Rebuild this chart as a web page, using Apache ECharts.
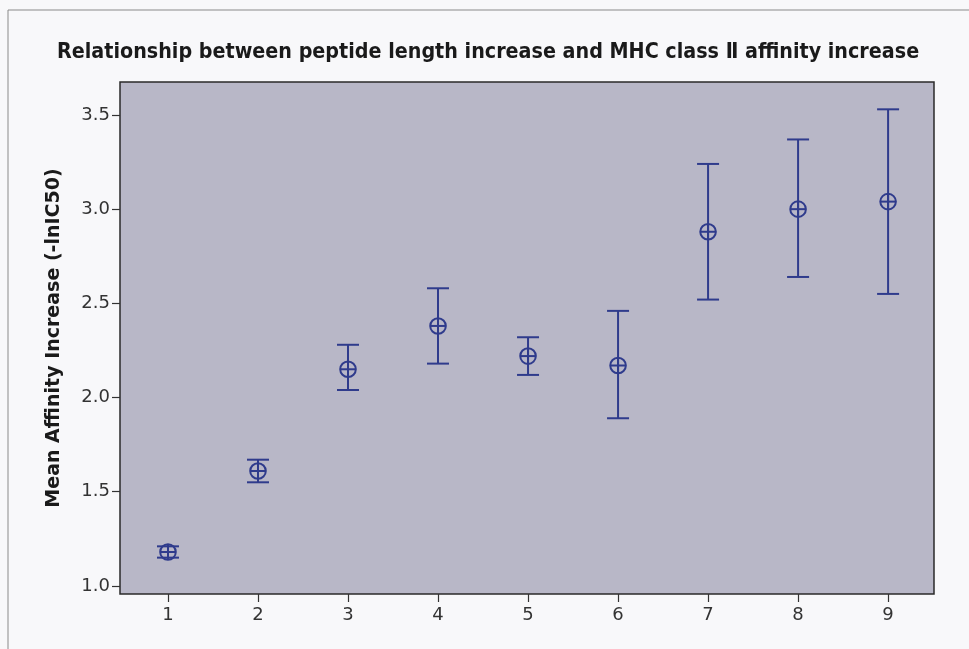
<!DOCTYPE html>
<html>
<head>
<meta charset="utf-8">
<script src="https://cdn.jsdelivr.net/npm/echarts@6/dist/echarts.min.js"></script>
<style>
html,body{margin:0;padding:0;background:#f8f8fa;}
#c{width:969px;height:649px;}
</style>
</head>
<body>
<div id="c"></div>
<script>
// Data
var categories = [1, 2, 3, 4, 5, 6, 7, 8, 9];
var meanValues = [1.18, 1.61, 2.15, 2.38, 2.22, 2.17, 2.88, 3.00, 3.04];
var lowerValues = [1.15, 1.55, 2.04, 2.18, 2.12, 1.89, 2.52, 2.64, 2.55];
var upperValues = [1.21, 1.67, 2.28, 2.58, 2.32, 2.46, 3.24, 3.37, 3.53];
var yTickLabels = [1.0, 1.5, 2.0, 2.5, 3.0, 3.5];
var xTickLabels = [1, 2, 3, 4, 5, 6, 7, 8, 9];

var seriesData = categories.map(function (c, i) {
  return [c, meanValues[i], lowerValues[i], upperValues[i]];
});

var markColor = '#2f3b8c';
var chart = echarts.init(document.getElementById('c'));

function renderItem(params, api) {
  var x = api.value(0), m = api.value(1), lo = api.value(2), hi = api.value(3);
  var pc = api.coord([x, m]);
  var pl = api.coord([x, lo]);
  var ph = api.coord([x, hi]);
  var cw = 11, r = 7.8;
  var st = { stroke: markColor, lineWidth: 2, fill: null };
  return {
    type: 'group',
    children: [
      { type: 'line', shape: { x1: pl[0], y1: pl[1], x2: ph[0], y2: ph[1] }, style: st },
      { type: 'line', shape: { x1: pl[0] - cw, y1: pl[1], x2: pl[0] + cw, y2: pl[1] }, style: st },
      { type: 'line', shape: { x1: ph[0] - cw, y1: ph[1], x2: ph[0] + cw, y2: ph[1] }, style: st },
      { type: 'circle', shape: { cx: pc[0], cy: pc[1], r: r }, style: st },
      { type: 'line', shape: { x1: pc[0] - r, y1: pc[1], x2: pc[0] + r, y2: pc[1] }, style: st },
      { type: 'line', shape: { x1: pc[0], y1: pc[1] - r, x2: pc[0], y2: pc[1] + r }, style: st }
    ]
  };
}

var option = {
  backgroundColor: '#f8f8fa',
  animation: false,
  title: {
    text: 'Relationship between peptide length increase and MHC class \u2161 affinity increase',
    left: 52,
    top: 37,
    textStyle: {
      fontFamily: 'DejaVu Sans Condensed, DejaVu Sans',
      fontWeight: 'bold',
      fontSize: 21.3,
      color: '#1a1a1a'
    }
  },
  graphic: [
    { type: 'rect', shape: { x: 8, y: 10, width: 1000, height: 700 },
      style: { fill: null, stroke: '#8a8a8a', lineWidth: 1 }, silent: true, z: -1 }
  ],
  grid: {
    left: 120, right: 35, top: 82, bottom: 55,
    show: true,
    backgroundColor: '#b8b7c7',
    borderColor: '#2a2a2a',
    borderWidth: 1.5
  },
  xAxis: {
    type: 'value',
    min: 0.467, max: 9.51,
    splitLine: { show: false },
    axisLine: { show: false },
    axisTick: { show: true, length: 8, customValues: xTickLabels, lineStyle: { color: '#333', width: 1.2 } },
    axisLabel: { customValues: xTickLabels, margin: 12, fontFamily: 'DejaVu Sans', fontSize: 18, color: '#333' }
  },
  yAxis: {
    type: 'value',
    min: 0.957, max: 3.675,
    name: 'Mean Affinity Increase (-lnIC50)',
    nameLocation: 'middle',
    nameGap: 56,
    nameTextStyle: { fontFamily: 'DejaVu Sans', fontWeight: 'bold', fontSize: 19, color: '#1a1a1a' },
    splitLine: { show: false },
    axisLine: { show: false },
    axisTick: { show: true, length: 8, customValues: yTickLabels, lineStyle: { color: '#333', width: 1.2 } },
    axisLabel: {
      customValues: yTickLabels, margin: 10, fontFamily: 'DejaVu Sans', fontSize: 18, color: '#333',
      formatter: function (v) { return v.toFixed(1); }
    }
  },
  series: [{
    type: 'custom',
    renderItem: renderItem,
    data: seriesData,
    encode: { x: 0, y: [1, 2, 3] },
    clip: false
  }]
};
chart.setOption(option);
</script>
</body>
</html>
